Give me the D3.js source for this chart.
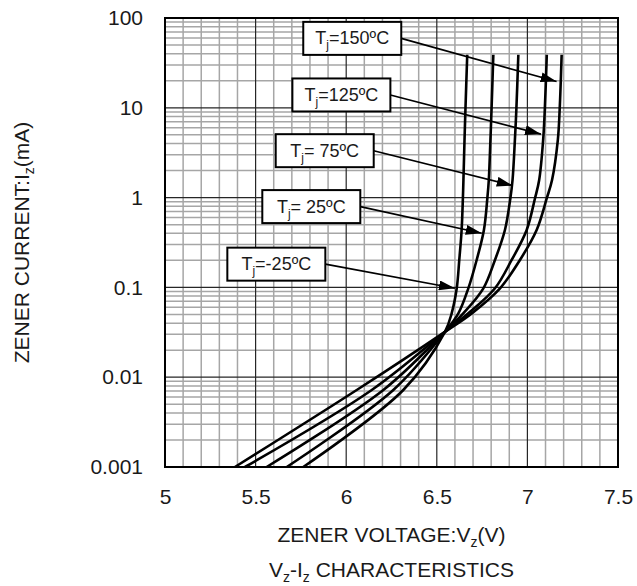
<!DOCTYPE html>
<html>
<head>
<meta charset="utf-8">
<script src="https://cdn.jsdelivr.net/npm/d3@7"></script>
<style>
body { margin: 0; background: #fff; }
text { font-family: Arial, "Liberation Sans", sans-serif; fill: #1a1a1a; }
</style>
</head>
<body>
<script>
// currents (mA) shared by every curve, low to high
const currents = [0.001, 0.0072, 0.032, 0.0514, 0.0977, 0.202, 0.436, 0.984, 1.57, 4.4, 9.5, 39];

// zener voltage (V) read at each current above
const v150 = [5.386, 6.058, 6.545, 6.693, 6.849, 6.959, 7.051, 7.107, 7.136, 7.168, 7.178, 7.189];
const v125 = [5.441, 6.141, 6.545, 6.674, 6.821, 6.913, 6.996, 7.042, 7.065, 7.087, 7.096, 7.107];
const v75  = [5.561, 6.205, 6.545, 6.646, 6.757, 6.821, 6.876, 6.906, 6.918, 6.931, 6.939, 6.950];
const v25  = [5.672, 6.260, 6.545, 6.619, 6.674, 6.720, 6.760, 6.779, 6.787, 6.796, 6.802, 6.812];
const vm25 = [5.763, 6.315, 6.545, 6.582, 6.610, 6.624, 6.637, 6.644, 6.647, 6.653, 6.658, 6.668];
const series = [v150, v125, v75, v25, vm25];

// label boxes (left edge V, centre I) and where the arrows point
const labelText = ["=150ºC", "=125ºC", "= 75ºC", "= 25ºC", "=-25ºC"];
const boxV = [5.763, 5.703, 5.611, 5.537, 5.344];
const boxI = [59.3, 13.9, 3.33, 0.794, 0.1815];
const tipV = [7.161, 7.075, 6.919, 6.748, 6.600];
const tipI = [19.6, 5.09, 1.36, 0.401, 0.0977];

const xTicks = [5, 5.5, 6, 6.5, 7, 7.5];
const xTickLabels = ["5", "5.5", "6", "6.5", "7", "7.5"];
const yTicks = [0.001, 0.01, 0.1, 1, 10, 100];
const yTickLabels = ["0.001", "0.01", "0.1", "1", "10", "100"];

const width = 637, height = 586;
const pLeft = 165, pRight = 618, pTop = 18, pBottom = 467;

const x = d3.scaleLinear().domain([5, 7.5]).range([pLeft, pRight]);
const y = d3.scaleLog().domain([0.001, 100]).range([pBottom, pTop]);

const svg = d3.select("body").append("svg")
  .attr("width", width)
  .attr("height", height);

// grid
const vLines = d3.range(0, 26).map(i => ({v: 5 + i * 0.1, major: i % 5 === 0}));
const hLines = [];
[0.001, 0.01, 0.1, 1, 10].forEach(d => {
  for (let k = 1; k <= 9; k++) hLines.push({v: d * k, major: k === 1});
});
hLines.push({v: 100, major: true});

const grid = svg.append("g");
grid.selectAll(".vmin")
  .data(vLines.filter(d => !d.major))
  .join("line")
    .attr("x1", d => x(d.v)).attr("x2", d => x(d.v))
    .attr("y1", pTop).attr("y2", pBottom)
    .attr("stroke", "#a6a6a6").attr("stroke-width", 1.5);
grid.selectAll(".hmin")
  .data(hLines.filter(d => !d.major))
  .join("line")
    .attr("y1", d => y(d.v)).attr("y2", d => y(d.v))
    .attr("x1", pLeft).attr("x2", pRight)
    .attr("stroke", "#a6a6a6").attr("stroke-width", 1.5);
grid.selectAll(".vmaj")
  .data(vLines.filter(d => d.major))
  .join("line")
    .attr("x1", d => x(d.v)).attr("x2", d => x(d.v))
    .attr("y1", pTop).attr("y2", pBottom)
    .attr("stroke", "#262626").attr("stroke-width", 1.2);
grid.selectAll(".hmaj")
  .data(hLines.filter(d => d.major))
  .join("line")
    .attr("y1", d => y(d.v)).attr("y2", d => y(d.v))
    .attr("x1", pLeft).attr("x2", pRight)
    .attr("stroke", "#262626").attr("stroke-width", 1.2);

svg.append("rect")
  .attr("x", pLeft).attr("y", pTop)
  .attr("width", pRight - pLeft).attr("height", pBottom - pTop)
  .attr("fill", "none").attr("stroke", "#000").attr("stroke-width", 2);

// axes
const xAxis = d3.axisBottom(x).tickValues(xTicks)
  .tickFormat((d, i) => xTickLabels[i]).tickSize(0).tickPadding(22);
const yAxis = d3.axisLeft(y).tickValues(yTicks)
  .tickFormat((d, i) => yTickLabels[i]).tickSize(0).tickPadding(22);

svg.append("g").attr("transform", `translate(0,${pBottom})`).call(xAxis)
  .call(g => g.select(".domain").remove())
  .selectAll("text").attr("font-size", 21).attr("fill", "#1a1a1a")
  .attr("font-family", "Arial, 'Liberation Sans', sans-serif");
svg.append("g").attr("transform", `translate(${pLeft},0)`).call(yAxis)
  .call(g => g.select(".domain").remove())
  .selectAll("text").attr("font-size", 21).attr("fill", "#1a1a1a")
  .attr("font-family", "Arial, 'Liberation Sans', sans-serif");

// curves
const line = d3.line()
  .x(d => x(d[0]))
  .y(d => y(d[1]))
  .curve(d3.curveCatmullRom.alpha(0.5));

svg.append("g")
  .selectAll("path")
  .data(series.map(s => s.map((v, i) => [v, currents[i]])))
  .join("path")
    .attr("d", line)
    .attr("fill", "none")
    .attr("stroke", "#000")
    .attr("stroke-width", 2.6);

// arrows and label boxes
svg.append("defs").append("marker")
  .attr("id", "head")
  .attr("viewBox", "0 0 16 10")
  .attr("refX", 16).attr("refY", 5)
  .attr("markerWidth", 16).attr("markerHeight", 10)
  .attr("markerUnits", "userSpaceOnUse")
  .attr("orient", "auto")
  .append("path").attr("d", "M0,0L16,5L0,10Z").attr("fill", "#000");

const boxW = 98, boxH = 33;
const labels = svg.append("g")
  .selectAll("g")
  .data(labelText.map((t, i) => ({t, bv: boxV[i], bi: boxI[i], tv: tipV[i], ti: tipI[i]})))
  .join("g");

labels.append("line")
  .attr("x1", d => x(d.bv) + boxW)
  .attr("y1", d => y(d.bi))
  .attr("x2", d => x(d.tv))
  .attr("y2", d => y(d.ti))
  .attr("stroke", "#000").attr("stroke-width", 1.6)
  .attr("marker-end", "url(#head)");

labels.append("rect")
  .attr("x", d => x(d.bv))
  .attr("y", d => y(d.bi) - boxH / 2)
  .attr("width", boxW).attr("height", boxH)
  .attr("fill", "#fff").attr("stroke", "#000").attr("stroke-width", 2);

const lt = labels.append("text")
  .attr("x", d => x(d.bv) + boxW / 2)
  .attr("y", d => y(d.bi) + 6)
  .attr("text-anchor", "middle")
  .attr("font-size", 18);
lt.append("tspan").text("T");
lt.append("tspan").attr("font-size", 12).attr("dy", 5).text("j");
lt.append("tspan").attr("dy", -5).text(d => d.t);

// titles
const xt = svg.append("text")
  .attr("x", (pLeft + pRight) / 2).attr("y", 542)
  .attr("text-anchor", "middle").attr("font-size", 21);
xt.append("tspan").text("ZENER VOLTAGE:V");
xt.append("tspan").attr("font-size", 14).attr("dy", 5).text("z");
xt.append("tspan").attr("dy", -5).text("(V)");

const ct = svg.append("text")
  .attr("x", (pLeft + pRight) / 2).attr("y", 577)
  .attr("text-anchor", "middle").attr("font-size", 21);
ct.append("tspan").text("V");
ct.append("tspan").attr("font-size", 14).attr("dy", 5).text("z");
ct.append("tspan").attr("dy", -5).text("-I");
ct.append("tspan").attr("font-size", 14).attr("dy", 5).text("z");
ct.append("tspan").attr("dy", -5).text(" CHARACTERISTICS");

const yt = svg.append("text")
  .attr("transform", `translate(29,${(pTop + pBottom) / 2}) rotate(-90)`)
  .attr("text-anchor", "middle").attr("font-size", 21);
yt.append("tspan").text("ZENER CURRENT:I");
yt.append("tspan").attr("font-size", 14).attr("dy", 5).text("z");
yt.append("tspan").attr("dy", -5).text("(mA)");
</script>
</body>
</html>
